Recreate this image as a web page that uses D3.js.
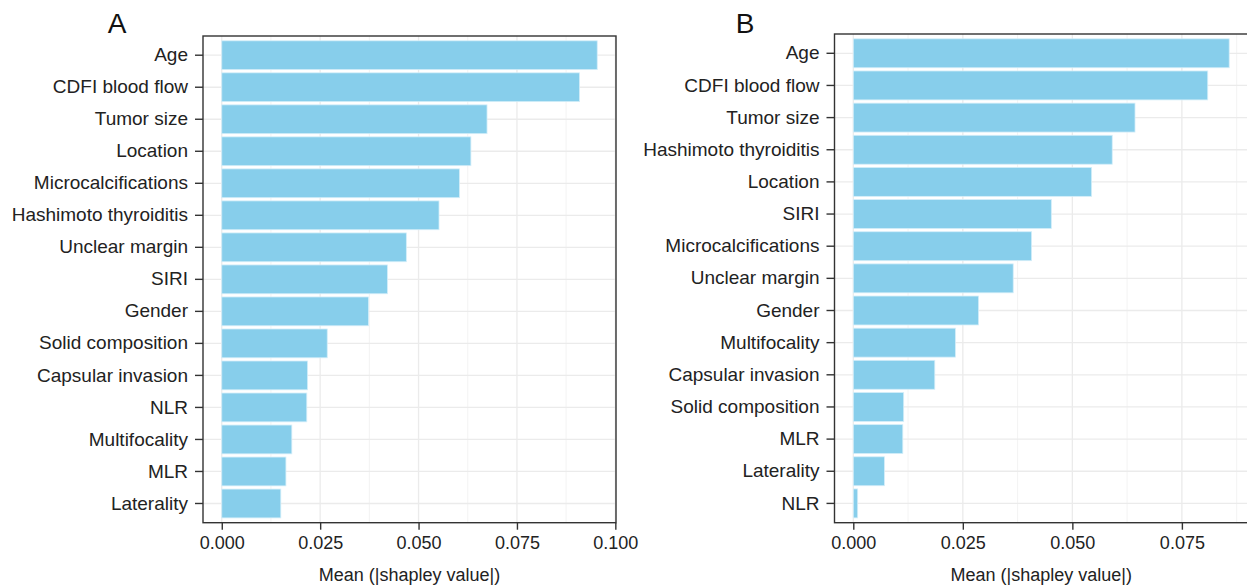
<!DOCTYPE html>
<html>
<head>
<meta charset="utf-8">
<script src="https://cdn.jsdelivr.net/npm/d3@7"></script>
<style>
  html, body { margin: 0; padding: 0; background: #fff; }
  svg text { font-family: "Liberation Sans", Arial, Helvetica, sans-serif; }
</style>
</head>
<body>
<svg id="chart" width="1247" height="586"></svg>
<script>
// Mean |SHAP| per feature, panel A (top to bottom)
const featuresA = ["Age", "CDFI blood flow", "Tumor size", "Location", "Microcalcifications",
  "Hashimoto thyroiditis", "Unclear margin", "SIRI", "Gender", "Solid composition",
  "Capsular invasion", "NLR", "Multifocality", "MLR", "Laterality"];
const valuesA = [0.0954, 0.0909, 0.0674, 0.0633, 0.0604, 0.0552, 0.0469, 0.0421, 0.0373,
  0.0268, 0.0218, 0.0216, 0.0178, 0.0163, 0.0150];
const ticksA = [0, 0.025, 0.05, 0.075, 0.1];

// Mean |SHAP| per feature, panel B (top to bottom)
const featuresB = ["Age", "CDFI blood flow", "Tumor size", "Hashimoto thyroiditis", "Location",
  "SIRI", "Microcalcifications", "Unclear margin", "Gender", "Multifocality",
  "Capsular invasion", "Solid composition", "MLR", "Laterality", "NLR"];
const valuesB = [0.0858, 0.0809, 0.0643, 0.0591, 0.0544, 0.0452, 0.0407, 0.0365, 0.0286,
  0.0233, 0.0186, 0.0115, 0.0113, 0.0071, 0.0010];
const ticksB = [0, 0.025, 0.05, 0.075];

const panelLabels = ["A", "B"];
const axisTitle = "Mean (|shapley value|)";

const svg = d3.select("#chart");
const fmt = d3.format(".3f");

function drawPanel(opts) {
  const { left, right, top, bottom, features, values, ticks, label, labelX } = opts;
  const maxV = d3.max(values);
  const x = d3.scaleLinear()
    .domain([-0.05 * maxV, 1.05 * maxV])
    .range([left, right]);
  const y = d3.scaleBand()
    .domain(features)
    .range([top, bottom])
    .paddingInner(0.1)
    .paddingOuter(0.15);

  const g = svg.append("g");

  // panel background
  g.append("rect")
    .attr("x", left).attr("y", top)
    .attr("width", right - left).attr("height", bottom - top)
    .attr("fill", "#fff");

  // minor vertical grid at midpoints between major ticks
  const step = ticks[1] - ticks[0];
  const minor = [];
  for (let v = ticks[0] - step / 2; v <= x.domain()[1]; v += step) {
    if (v >= x.domain()[0]) minor.push(v);
  }
  g.selectAll(".minor").data(minor).join("line")
    .attr("x1", d => x(d)).attr("x2", d => x(d))
    .attr("y1", top).attr("y2", bottom)
    .attr("stroke", "#f0f0f0").attr("stroke-width", 0.8);

  // major vertical grid
  g.selectAll(".majorx").data(ticks).join("line")
    .attr("x1", d => x(d)).attr("x2", d => x(d))
    .attr("y1", top).attr("y2", bottom)
    .attr("stroke", "#ebebeb").attr("stroke-width", 1.3);

  // horizontal grid at categories
  g.selectAll(".majory").data(features).join("line")
    .attr("x1", left).attr("x2", right)
    .attr("y1", d => y(d) + y.bandwidth() / 2)
    .attr("y2", d => y(d) + y.bandwidth() / 2)
    .attr("stroke", "#ebebeb").attr("stroke-width", 1.3);

  // bars
  g.selectAll(".bar").data(features).join("rect")
    .attr("x", x(0))
    .attr("y", d => y(d))
    .attr("width", (d, i) => x(values[i]) - x(0))
    .attr("height", y.bandwidth())
    .attr("fill", "#87ceeb")
    .attr("stroke", "#d4eef9")
    .attr("stroke-width", 0.8);

  // panel border
  g.append("rect")
    .attr("x", left).attr("y", top)
    .attr("width", right - left).attr("height", bottom - top)
    .attr("fill", "none")
    .attr("stroke", "#333")
    .attr("stroke-width", 1.4);

  // y axis
  const yAxis = d3.axisLeft(y).tickSize(8).tickPadding(7);
  const ya = g.append("g").attr("transform", `translate(${left},0)`).call(yAxis);
  ya.select(".domain").remove();
  ya.selectAll("line").attr("stroke", "#333").attr("stroke-width", 1.4);
  ya.selectAll("text").attr("fill", "#222").style("font-size", "19px");

  // x axis
  const xAxis = d3.axisBottom(x).tickValues(ticks).tickFormat(fmt).tickSize(7).tickPadding(7);
  const xa = g.append("g").attr("transform", `translate(0,${bottom})`).call(xAxis);
  xa.select(".domain").remove();
  xa.selectAll("line").attr("stroke", "#333").attr("stroke-width", 1.4);
  xa.selectAll("text").attr("fill", "#222").style("font-size", "18px");

  // axis title
  g.append("text")
    .attr("x", (left + right) / 2).attr("y", 581)
    .attr("text-anchor", "middle")
    .attr("fill", "#222")
    .style("font-size", "18px")
    .text(axisTitle);

  // panel letter
  g.append("text")
    .attr("x", labelX).attr("y", 33)
    .attr("text-anchor", "middle")
    .attr("fill", "#111")
    .style("font-size", "28px")
    .text(label);
}

drawPanel({ left: 203, right: 616, top: 36, bottom: 522.7,
  features: featuresA, values: valuesA, ticks: ticksA, label: panelLabels[0], labelX: 117 });
drawPanel({ left: 834.5, right: 1248, top: 34, bottom: 522.7,
  features: featuresB, values: valuesB, ticks: ticksB, label: panelLabels[1], labelX: 745 });
</script>
</body>
</html>
